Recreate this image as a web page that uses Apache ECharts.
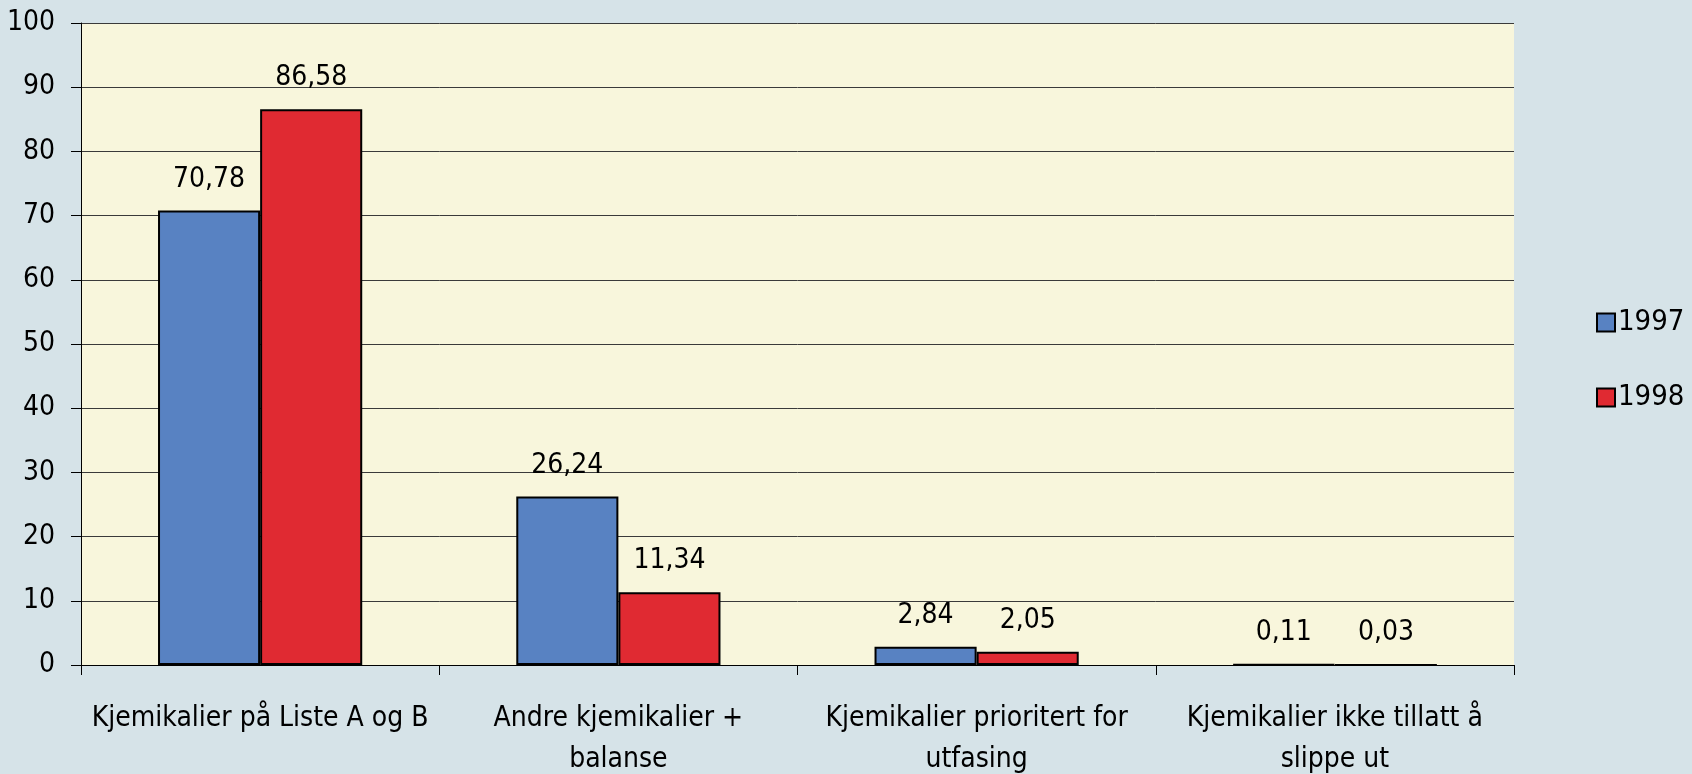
<!DOCTYPE html>
<html>
<head>
<meta charset="utf-8">
<script src="https://cdn.jsdelivr.net/npm/echarts@6/dist/echarts.min.js"></script>
<style>
html,body{margin:0;padding:0;background:#D6E3E8;}
#chart{width:1692px;height:774px;}
</style>
</head>
<body>
<div id="chart"></div>
<script>
var categories = ['Kjemikalier på Liste A og B', 'Andre kjemikalier +\nbalanse', 'Kjemikalier prioritert for\nutfasing', 'Kjemikalier ikke tillatt å\nslippe ut'];
var seriesNames = ['1997', '1998'];
var values1997 = [70.78, 26.24, 2.84, 0.11];
var values1998 = [86.58, 11.34, 2.05, 0.03];
var yTicks = { min: 0, max: 100, interval: 10 };

var FONT = "'Liberation Sans Narrow', 'DejaVu Sans Condensed', sans-serif";
function fmtFixed(p) { return p.value.toFixed(2).replace('.', ','); }

var chart = echarts.init(document.getElementById('chart'));
chart.setOption({
  backgroundColor: '#D6E3E8',
  animation: false,
  textStyle: { fontFamily: FONT },
  grid: { left: 81, right: 178, top: 23, bottom: 109, show: true, backgroundColor: '#F8F6DC', borderWidth: 0, containLabel: false, outerBoundsMode: 'none' },
  legend: {
    orient: 'vertical', left: 1591, top: 303,
    itemWidth: 18, itemHeight: 18, itemGap: 46,
    icon: 'rect',
    itemStyle: { borderColor: '#000', borderWidth: 2 },
    textStyle: { fontFamily: FONT, fontSize: 29, color: '#000', padding: [0, 0, 0, -2] },
    data: seriesNames
  },
  xAxis: {
    type: 'category', data: categories,
    axisLine: { lineStyle: { color: '#000', width: 1 } },
    axisTick: { show: true, length: 10, lineStyle: { color: '#000' } },
    axisLabel: { fontFamily: FONT, fontSize: 28, color: '#000', margin: 33, lineHeight: 41, interval: 0 }
  },
  yAxis: {
    type: 'value', min: yTicks.min, max: yTicks.max, interval: yTicks.interval,
    axisLine: { show: true, lineStyle: { color: '#000', width: 1 } },
    axisTick: { show: true, length: 10, lineStyle: { color: '#000' } },
    axisLabel: { fontFamily: FONT, fontSize: 28, color: '#000', margin: 26 },
    splitLine: { show: true, lineStyle: { color: '#3a3a3a', width: 1 } }
  },
  series: [
    { name: seriesNames[0], type: 'bar', data: values1997, barGap: '0%', barCategoryGap: '43%',
      itemStyle: { color: '#5882C2', borderColor: '#000', borderWidth: 2 },
      label: { show: true, position: 'top', distance: 17, formatter: fmtFixed, fontFamily: FONT, fontSize: 28, color: '#000' } },
    { name: seriesNames[1], type: 'bar', data: values1998, barGap: '0%', barCategoryGap: '43%',
      itemStyle: { color: '#E02A32', borderColor: '#000', borderWidth: 2 },
      label: { show: true, position: 'top', distance: 17, formatter: fmtFixed, fontFamily: FONT, fontSize: 28, color: '#000' } }
  ]
});
</script>
</body>
</html>
